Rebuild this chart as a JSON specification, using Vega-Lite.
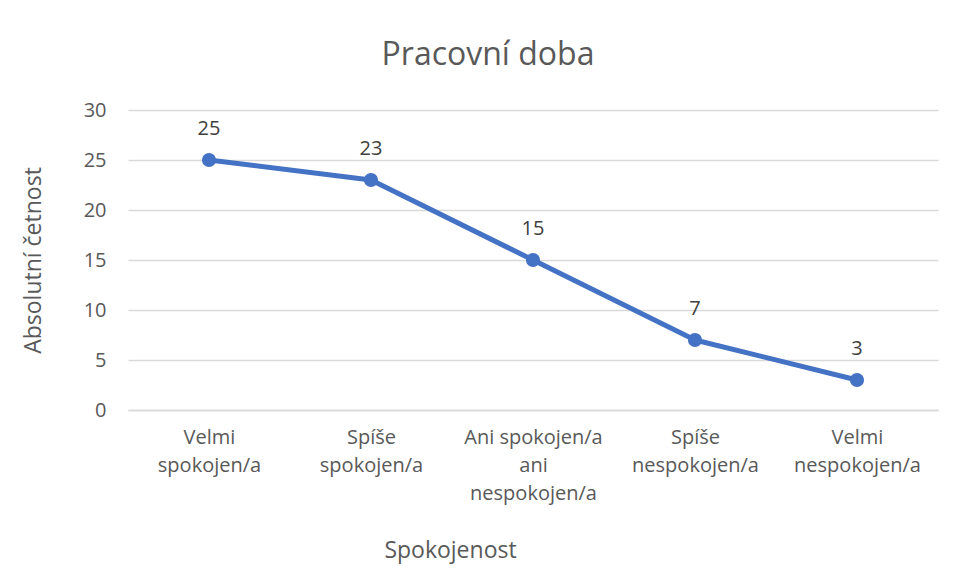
{
  "$schema": "https://vega.github.io/schema/vega-lite/v6.json",
  "width": 810,
  "height": 300,
  "autosize": {"type": "none"},
  "padding": {"left": 128, "top": 110, "right": 19, "bottom": 171},
  "background": "white",
  "title": {
    "text": "Pracovní doba",
    "font": "Open Sans",
    "fontSize": 32,
    "fontWeight": "normal",
    "color": "#595959",
    "baseline": "alphabetic",
    "offset": 3,
    "dx": -45
  },
  "config": {
    "view": {"stroke": null},
    "font": "Open Sans"
  },
  "data": {
    "values": [
      {"kategorie": "Velmi spokojen/a", "pocet": 25, "poradi": 1},
      {"kategorie": "Spíše spokojen/a", "pocet": 23, "poradi": 2},
      {"kategorie": "Ani spokojen/a ani nespokojen/a", "pocet": 15, "poradi": 3},
      {"kategorie": "Spíše nespokojen/a", "pocet": 7, "poradi": 4},
      {"kategorie": "Velmi nespokojen/a", "pocet": 3, "poradi": 5}
    ]
  },
  "encoding": {
    "x": {
      "field": "kategorie",
      "type": "nominal",
      "sort": {"field": "poradi"},
      "scale": {"paddingInner": 0, "paddingOuter": 0},
      "axis": {
        "title": "Spokojenost",
        "titleFont": "Open Sans",
        "titleFontSize": 23,
        "titleFontWeight": "normal",
        "titleColor": "#595959",
        "titleX": 322,
        "titleY": 147,
        "titleBaseline": "alphabetic",
        "labelAngle": 0,
        "labelFont": "Open Sans",
        "labelFontSize": 20,
        "labelColor": "#595959",
        "labelLineHeight": 28,
        "labelPadding": 17,
        "labelBaseline": "top",
        "labelExpr": "datum.value == 'Ani spokojen/a ani nespokojen/a' ? ['Ani spokojen/a', 'ani', 'nespokojen/a'] : split(datum.value, ' ')",
        "ticks": false,
        "domain": true,
        "domainColor": "#d9d9d9",
        "domainWidth": 1.5,
        "grid": false
      }
    },
    "y": {
      "field": "pocet",
      "type": "quantitative",
      "scale": {"domain": [0, 30]},
      "axis": {
        "title": "Absolutní četnost",
        "titleFont": "Open Sans",
        "titleFontSize": 23,
        "titleFontWeight": "normal",
        "titleColor": "#595959",
        "titleX": -95,
        "titleY": 150,
        "titleAnchor": "middle",
        "titleBaseline": "middle",
        "values": [0, 5, 10, 15, 20, 25, 30],
        "labelFont": "Open Sans",
        "labelFontSize": 20,
        "labelColor": "#595959",
        "labelPadding": 22,
        "ticks": false,
        "domain": false,
        "grid": true,
        "gridColor": "#d9d9d9",
        "gridWidth": 1.5
      }
    }
  },
  "layer": [
    {
      "mark": {"type": "line", "color": "#4472C4", "strokeWidth": 5, "strokeCap": "round", "strokeJoin": "round"}
    },
    {
      "mark": {"type": "point", "filled": true, "color": "#4472C4", "opacity": 1, "size": 200}
    },
    {
      "mark": {"type": "text", "dy": -31, "font": "Open Sans", "fontSize": 20, "color": "#404040", "baseline": "middle"},
      "encoding": {"text": {"field": "pocet", "type": "quantitative"}}
    }
  ]
}
